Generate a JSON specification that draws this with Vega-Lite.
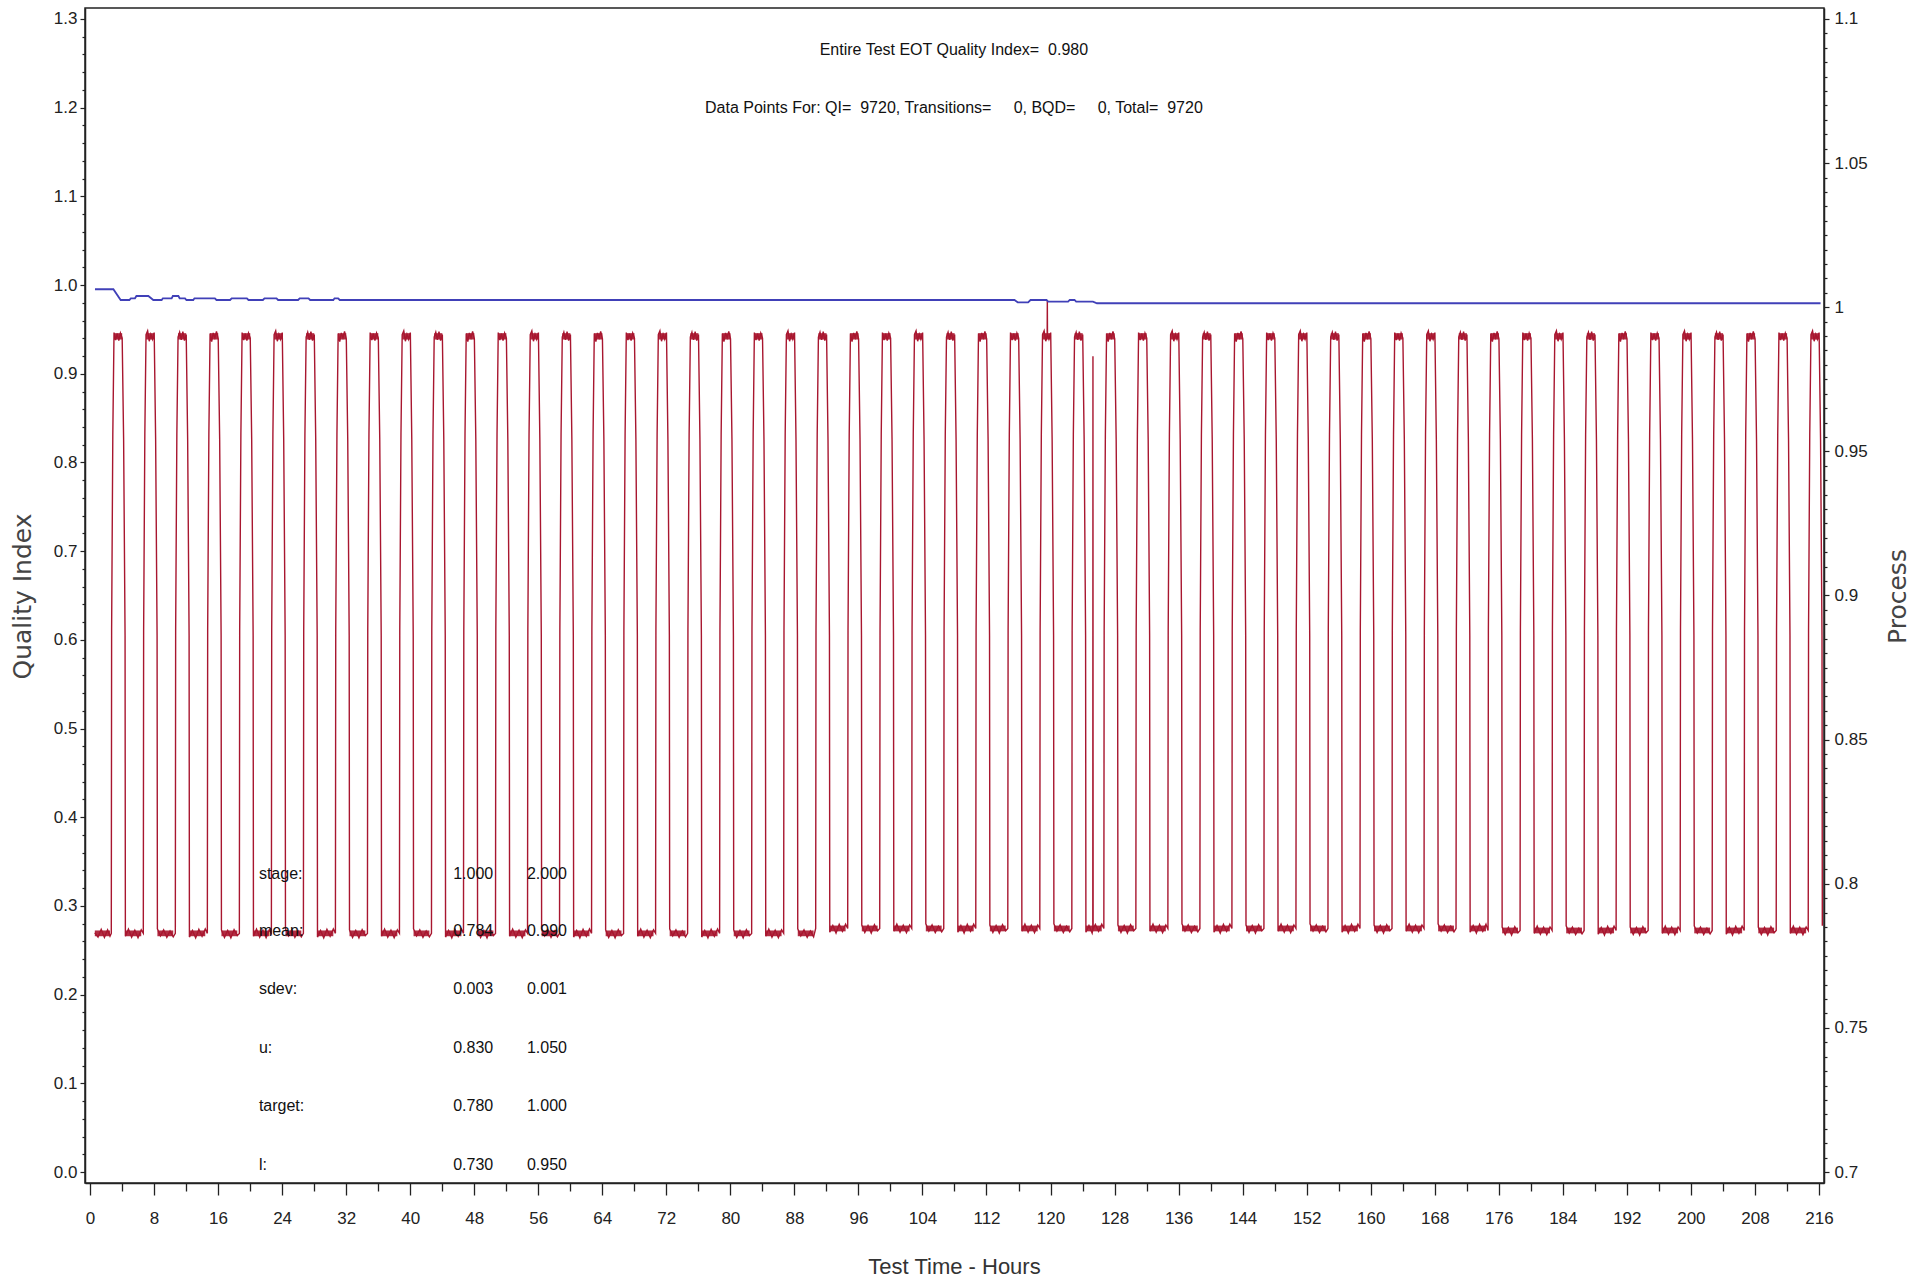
{
"$schema":"https://vega.github.io/schema/vega-lite/v6.json",
"width":1739,"height":1175,
"autosize":{"type":"none"},
"padding":{"left":85,"top":8,"right":103,"bottom":99},
"background":"white",
"config":{"view":{"stroke":"#222222","strokeWidth":1.5},"axis":{"grid":false}},
"datasets":{
"proc":[
{"h":0.6,"p":0.783},{"h":1,"p":0.7815},{"h":1.4,"p":0.7842},{"h":1.8,"p":0.7814},{"h":2.2,"p":0.784},{"h":2.5,"p":0.7818},
{"h":2.66,"p":0.7828},{"h":2.7,"p":0.888},{"h":2.85,"p":0.956},{"h":3,"p":0.9912},{"h":3.2,"p":0.9886},{"h":3.4,"p":0.9908},{"h":3.6,"p":0.9884},{"h":3.8,"p":0.991},{"h":4.02,"p":0.9893},{"h":4.2,"p":0.954},{"h":4.38,"p":0.886},{"h":4.42,"p":0.7818},{"h":4.8,"p":0.7843},{"h":5.2,"p":0.7815},{"h":5.6,"p":0.7839},{"h":6,"p":0.7813},{"h":6.4,"p":0.784},
{"h":6.66,"p":0.7828},{"h":6.7,"p":0.888},{"h":6.85,"p":0.956},{"h":7,"p":0.9905},{"h":7.2,"p":0.9918},{"h":7.4,"p":0.9882},{"h":7.6,"p":0.9906},{"h":7.8,"p":0.9889},{"h":8.02,"p":0.9912},{"h":8.2,"p":0.954},{"h":8.38,"p":0.886},{"h":8.42,"p":0.7844},{"h":8.8,"p":0.7819},{"h":9.2,"p":0.784},{"h":9.6,"p":0.7814},{"h":10,"p":0.7836},{"h":10.4,"p":0.7816},
{"h":10.66,"p":0.7828},{"h":10.7,"p":0.888},{"h":10.85,"p":0.956},{"h":11,"p":0.9896},{"h":11.2,"p":0.9913},{"h":11.4,"p":0.9887},{"h":11.6,"p":0.9915},{"h":11.8,"p":0.9884},{"h":12.02,"p":0.9905},{"h":12.2,"p":0.954},{"h":12.38,"p":0.886},{"h":12.42,"p":0.7815},{"h":12.8,"p":0.7838},{"h":13.2,"p":0.7812},{"h":13.6,"p":0.7842},{"h":14,"p":0.7818},{"h":14.4,"p":0.7843},
{"h":14.66,"p":0.7828},{"h":14.7,"p":0.888},{"h":14.85,"p":0.956},{"h":15,"p":0.9909},{"h":15.2,"p":0.9881},{"h":15.4,"p":0.9911},{"h":15.6,"p":0.9894},{"h":15.8,"p":0.9916},{"h":16.02,"p":0.989},{"h":16.2,"p":0.954},{"h":16.38,"p":0.886},{"h":16.42,"p":0.784},{"h":16.8,"p":0.7814},{"h":17.2,"p":0.7838},{"h":17.6,"p":0.7812},{"h":18,"p":0.7841},{"h":18.4,"p":0.782},
{"h":18.66,"p":0.7828},{"h":18.7,"p":0.888},{"h":18.85,"p":0.956},{"h":19,"p":0.9912},{"h":19.2,"p":0.9886},{"h":19.4,"p":0.9908},{"h":19.6,"p":0.9884},{"h":19.8,"p":0.991},{"h":20.02,"p":0.9893},{"h":20.2,"p":0.954},{"h":20.38,"p":0.886},{"h":20.42,"p":0.7818},{"h":20.8,"p":0.7843},{"h":21.2,"p":0.7815},{"h":21.6,"p":0.7839},{"h":22,"p":0.7813},{"h":22.4,"p":0.784},
{"h":22.66,"p":0.7828},{"h":22.7,"p":0.888},{"h":22.85,"p":0.956},{"h":23,"p":0.9905},{"h":23.2,"p":0.9918},{"h":23.4,"p":0.9882},{"h":23.6,"p":0.9906},{"h":23.8,"p":0.9889},{"h":24.02,"p":0.9912},{"h":24.2,"p":0.954},{"h":24.38,"p":0.886},{"h":24.42,"p":0.7844},{"h":24.8,"p":0.7819},{"h":25.2,"p":0.784},{"h":25.6,"p":0.7814},{"h":26,"p":0.7836},{"h":26.4,"p":0.7816},
{"h":26.66,"p":0.7828},{"h":26.7,"p":0.888},{"h":26.85,"p":0.956},{"h":27,"p":0.9896},{"h":27.2,"p":0.9913},{"h":27.4,"p":0.9887},{"h":27.6,"p":0.9915},{"h":27.8,"p":0.9884},{"h":28.02,"p":0.9905},{"h":28.2,"p":0.954},{"h":28.38,"p":0.886},{"h":28.42,"p":0.7815},{"h":28.8,"p":0.7838},{"h":29.2,"p":0.7812},{"h":29.6,"p":0.7842},{"h":30,"p":0.7818},{"h":30.4,"p":0.7843},
{"h":30.66,"p":0.7828},{"h":30.7,"p":0.888},{"h":30.85,"p":0.956},{"h":31,"p":0.9909},{"h":31.2,"p":0.9881},{"h":31.4,"p":0.9911},{"h":31.6,"p":0.9894},{"h":31.8,"p":0.9916},{"h":32.02,"p":0.989},{"h":32.2,"p":0.954},{"h":32.38,"p":0.886},{"h":32.42,"p":0.784},{"h":32.8,"p":0.7814},{"h":33.2,"p":0.7838},{"h":33.6,"p":0.7812},{"h":34,"p":0.7841},{"h":34.4,"p":0.782},
{"h":34.66,"p":0.7828},{"h":34.7,"p":0.888},{"h":34.85,"p":0.956},{"h":35,"p":0.9912},{"h":35.2,"p":0.9886},{"h":35.4,"p":0.9908},{"h":35.6,"p":0.9884},{"h":35.8,"p":0.991},{"h":36.02,"p":0.9893},{"h":36.2,"p":0.954},{"h":36.38,"p":0.886},{"h":36.42,"p":0.7818},{"h":36.8,"p":0.7843},{"h":37.2,"p":0.7815},{"h":37.6,"p":0.7839},{"h":38,"p":0.7813},{"h":38.4,"p":0.784},
{"h":38.66,"p":0.7828},{"h":38.7,"p":0.888},{"h":38.85,"p":0.956},{"h":39,"p":0.9905},{"h":39.2,"p":0.9918},{"h":39.4,"p":0.9882},{"h":39.6,"p":0.9906},{"h":39.8,"p":0.9889},{"h":40.02,"p":0.9912},{"h":40.2,"p":0.954},{"h":40.38,"p":0.886},{"h":40.42,"p":0.7844},{"h":40.8,"p":0.7819},{"h":41.2,"p":0.784},{"h":41.6,"p":0.7814},{"h":42,"p":0.7836},{"h":42.4,"p":0.7816},
{"h":42.66,"p":0.7828},{"h":42.7,"p":0.888},{"h":42.85,"p":0.956},{"h":43,"p":0.9896},{"h":43.2,"p":0.9913},{"h":43.4,"p":0.9887},{"h":43.6,"p":0.9915},{"h":43.8,"p":0.9884},{"h":44.02,"p":0.9905},{"h":44.2,"p":0.954},{"h":44.38,"p":0.886},{"h":44.42,"p":0.7815},{"h":44.8,"p":0.7838},{"h":45.2,"p":0.7812},{"h":45.6,"p":0.7842},{"h":46,"p":0.7818},{"h":46.4,"p":0.7843},
{"h":46.66,"p":0.7828},{"h":46.7,"p":0.888},{"h":46.85,"p":0.956},{"h":47,"p":0.9909},{"h":47.2,"p":0.9881},{"h":47.4,"p":0.9911},{"h":47.6,"p":0.9894},{"h":47.8,"p":0.9916},{"h":48.02,"p":0.989},{"h":48.2,"p":0.954},{"h":48.38,"p":0.886},{"h":48.42,"p":0.784},{"h":48.8,"p":0.7814},{"h":49.2,"p":0.7838},{"h":49.6,"p":0.7812},{"h":50,"p":0.7841},{"h":50.4,"p":0.782},
{"h":50.66,"p":0.7828},{"h":50.7,"p":0.888},{"h":50.85,"p":0.956},{"h":51,"p":0.9912},{"h":51.2,"p":0.9886},{"h":51.4,"p":0.9908},{"h":51.6,"p":0.9884},{"h":51.8,"p":0.991},{"h":52.02,"p":0.9893},{"h":52.2,"p":0.954},{"h":52.38,"p":0.886},{"h":52.42,"p":0.7818},{"h":52.8,"p":0.7843},{"h":53.2,"p":0.7815},{"h":53.6,"p":0.7839},{"h":54,"p":0.7813},{"h":54.4,"p":0.784},
{"h":54.66,"p":0.7828},{"h":54.7,"p":0.888},{"h":54.85,"p":0.956},{"h":55,"p":0.9905},{"h":55.2,"p":0.9918},{"h":55.4,"p":0.9882},{"h":55.6,"p":0.9906},{"h":55.8,"p":0.9889},{"h":56.02,"p":0.9912},{"h":56.2,"p":0.954},{"h":56.38,"p":0.886},{"h":56.42,"p":0.7844},{"h":56.8,"p":0.7819},{"h":57.2,"p":0.784},{"h":57.6,"p":0.7814},{"h":58,"p":0.7836},{"h":58.4,"p":0.7816},
{"h":58.66,"p":0.7828},{"h":58.7,"p":0.888},{"h":58.85,"p":0.956},{"h":59,"p":0.9896},{"h":59.2,"p":0.9913},{"h":59.4,"p":0.9887},{"h":59.6,"p":0.9915},{"h":59.8,"p":0.9884},{"h":60.02,"p":0.9905},{"h":60.2,"p":0.954},{"h":60.38,"p":0.886},{"h":60.42,"p":0.7815},{"h":60.8,"p":0.7838},{"h":61.2,"p":0.7812},{"h":61.6,"p":0.7842},{"h":62,"p":0.7818},{"h":62.4,"p":0.7843},
{"h":62.66,"p":0.7828},{"h":62.7,"p":0.888},{"h":62.85,"p":0.956},{"h":63,"p":0.9909},{"h":63.2,"p":0.9881},{"h":63.4,"p":0.9911},{"h":63.6,"p":0.9894},{"h":63.8,"p":0.9916},{"h":64.02,"p":0.989},{"h":64.2,"p":0.954},{"h":64.38,"p":0.886},{"h":64.42,"p":0.784},{"h":64.8,"p":0.7814},{"h":65.2,"p":0.7838},{"h":65.6,"p":0.7812},{"h":66,"p":0.7841},{"h":66.4,"p":0.782},
{"h":66.66,"p":0.7828},{"h":66.7,"p":0.888},{"h":66.85,"p":0.956},{"h":67,"p":0.9912},{"h":67.2,"p":0.9886},{"h":67.4,"p":0.9908},{"h":67.6,"p":0.9884},{"h":67.8,"p":0.991},{"h":68.02,"p":0.9893},{"h":68.2,"p":0.954},{"h":68.38,"p":0.886},{"h":68.42,"p":0.7818},{"h":68.8,"p":0.7843},{"h":69.2,"p":0.7815},{"h":69.6,"p":0.7839},{"h":70,"p":0.7813},{"h":70.4,"p":0.784},
{"h":70.66,"p":0.7828},{"h":70.7,"p":0.888},{"h":70.85,"p":0.956},{"h":71,"p":0.9905},{"h":71.2,"p":0.9918},{"h":71.4,"p":0.9882},{"h":71.6,"p":0.9906},{"h":71.8,"p":0.9889},{"h":72.02,"p":0.9912},{"h":72.2,"p":0.954},{"h":72.38,"p":0.886},{"h":72.42,"p":0.7844},{"h":72.8,"p":0.7819},{"h":73.2,"p":0.784},{"h":73.6,"p":0.7814},{"h":74,"p":0.7836},{"h":74.4,"p":0.7816},
{"h":74.66,"p":0.7828},{"h":74.7,"p":0.888},{"h":74.85,"p":0.956},{"h":75,"p":0.9896},{"h":75.2,"p":0.9913},{"h":75.4,"p":0.9887},{"h":75.6,"p":0.9915},{"h":75.8,"p":0.9884},{"h":76.02,"p":0.9905},{"h":76.2,"p":0.954},{"h":76.38,"p":0.886},{"h":76.42,"p":0.7815},{"h":76.8,"p":0.7838},{"h":77.2,"p":0.7812},{"h":77.6,"p":0.7842},{"h":78,"p":0.7818},{"h":78.4,"p":0.7843},
{"h":78.66,"p":0.7828},{"h":78.7,"p":0.888},{"h":78.85,"p":0.956},{"h":79,"p":0.9909},{"h":79.2,"p":0.9881},{"h":79.4,"p":0.9911},{"h":79.6,"p":0.9894},{"h":79.8,"p":0.9916},{"h":80.02,"p":0.989},{"h":80.2,"p":0.954},{"h":80.38,"p":0.886},{"h":80.42,"p":0.784},{"h":80.8,"p":0.7814},{"h":81.2,"p":0.7838},{"h":81.6,"p":0.7812},{"h":82,"p":0.7841},{"h":82.4,"p":0.782},
{"h":82.66,"p":0.7828},{"h":82.7,"p":0.888},{"h":82.85,"p":0.956},{"h":83,"p":0.9912},{"h":83.2,"p":0.9886},{"h":83.4,"p":0.9908},{"h":83.6,"p":0.9884},{"h":83.8,"p":0.991},{"h":84.02,"p":0.9893},{"h":84.2,"p":0.954},{"h":84.38,"p":0.886},{"h":84.42,"p":0.7818},{"h":84.8,"p":0.7843},{"h":85.2,"p":0.7815},{"h":85.6,"p":0.7839},{"h":86,"p":0.7813},{"h":86.4,"p":0.784},
{"h":86.66,"p":0.7828},{"h":86.7,"p":0.888},{"h":86.85,"p":0.956},{"h":87,"p":0.9905},{"h":87.2,"p":0.9918},{"h":87.4,"p":0.9882},{"h":87.6,"p":0.9906},{"h":87.8,"p":0.9889},{"h":88.02,"p":0.9912},{"h":88.2,"p":0.954},{"h":88.38,"p":0.886},{"h":88.42,"p":0.7844},{"h":88.8,"p":0.7819},{"h":89.2,"p":0.784},{"h":89.6,"p":0.7814},{"h":90,"p":0.7836},{"h":90.4,"p":0.7816},
{"h":90.66,"p":0.7845},{"h":90.7,"p":0.888},{"h":90.85,"p":0.956},{"h":91,"p":0.9896},{"h":91.2,"p":0.9913},{"h":91.4,"p":0.9887},{"h":91.6,"p":0.9915},{"h":91.8,"p":0.9884},{"h":92.02,"p":0.9905},{"h":92.2,"p":0.954},{"h":92.38,"p":0.886},{"h":92.42,"p":0.7832},{"h":92.8,"p":0.7855},{"h":93.2,"p":0.7829},{"h":93.6,"p":0.7859},{"h":94,"p":0.7835},{"h":94.4,"p":0.786},
{"h":94.66,"p":0.7845},{"h":94.7,"p":0.888},{"h":94.85,"p":0.956},{"h":95,"p":0.9909},{"h":95.2,"p":0.9881},{"h":95.4,"p":0.9911},{"h":95.6,"p":0.9894},{"h":95.8,"p":0.9916},{"h":96.02,"p":0.989},{"h":96.2,"p":0.954},{"h":96.38,"p":0.886},{"h":96.42,"p":0.7857},{"h":96.8,"p":0.7831},{"h":97.2,"p":0.7855},{"h":97.6,"p":0.7829},{"h":98,"p":0.7858},{"h":98.4,"p":0.7837},
{"h":98.66,"p":0.7845},{"h":98.7,"p":0.888},{"h":98.85,"p":0.956},{"h":99,"p":0.9912},{"h":99.2,"p":0.9886},{"h":99.4,"p":0.9908},{"h":99.6,"p":0.9884},{"h":99.8,"p":0.991},{"h":100.02,"p":0.9893},{"h":100.2,"p":0.954},{"h":100.38,"p":0.886},{"h":100.42,"p":0.7835},{"h":100.8,"p":0.786},{"h":101.2,"p":0.7832},{"h":101.6,"p":0.7856},{"h":102,"p":0.783},{"h":102.4,"p":0.7857},
{"h":102.66,"p":0.7845},{"h":102.7,"p":0.888},{"h":102.85,"p":0.956},{"h":103,"p":0.9905},{"h":103.2,"p":0.9918},{"h":103.4,"p":0.9882},{"h":103.6,"p":0.9906},{"h":103.8,"p":0.9889},{"h":104.02,"p":0.9912},{"h":104.2,"p":0.954},{"h":104.38,"p":0.886},{"h":104.42,"p":0.7861},{"h":104.8,"p":0.7836},{"h":105.2,"p":0.7857},{"h":105.6,"p":0.7831},{"h":106,"p":0.7853},{"h":106.4,"p":0.7833},
{"h":106.66,"p":0.7845},{"h":106.7,"p":0.888},{"h":106.85,"p":0.956},{"h":107,"p":0.9896},{"h":107.2,"p":0.9913},{"h":107.4,"p":0.9887},{"h":107.6,"p":0.9915},{"h":107.8,"p":0.9884},{"h":108.02,"p":0.9905},{"h":108.2,"p":0.954},{"h":108.38,"p":0.886},{"h":108.42,"p":0.7832},{"h":108.8,"p":0.7855},{"h":109.2,"p":0.7829},{"h":109.6,"p":0.7859},{"h":110,"p":0.7835},{"h":110.4,"p":0.786},
{"h":110.66,"p":0.7845},{"h":110.7,"p":0.888},{"h":110.85,"p":0.956},{"h":111,"p":0.9909},{"h":111.2,"p":0.9881},{"h":111.4,"p":0.9911},{"h":111.6,"p":0.9894},{"h":111.8,"p":0.9916},{"h":112.02,"p":0.989},{"h":112.2,"p":0.954},{"h":112.38,"p":0.886},{"h":112.42,"p":0.7857},{"h":112.8,"p":0.7831},{"h":113.2,"p":0.7855},{"h":113.6,"p":0.7829},{"h":114,"p":0.7858},{"h":114.4,"p":0.7837},
{"h":114.66,"p":0.7845},{"h":114.7,"p":0.888},{"h":114.85,"p":0.956},{"h":115,"p":0.9912},{"h":115.2,"p":0.9886},{"h":115.4,"p":0.9908},{"h":115.6,"p":0.9884},{"h":115.8,"p":0.991},{"h":116.02,"p":0.9893},{"h":116.2,"p":0.954},{"h":116.38,"p":0.886},{"h":116.42,"p":0.7835},{"h":116.8,"p":0.786},{"h":117.2,"p":0.7832},{"h":117.6,"p":0.7856},{"h":118,"p":0.783},{"h":118.4,"p":0.7857},
{"h":118.66,"p":0.7845},{"h":118.7,"p":0.888},{"h":118.85,"p":0.956},{"h":119,"p":0.9905},{"h":119.2,"p":0.9918},{"h":119.4,"p":0.9882},{"h":119.58,"p":0.99},{"h":119.6,"p":1.0025},{"h":119.62,"p":0.9906},{"h":119.8,"p":0.9889},{"h":120.02,"p":0.9912},{"h":120.2,"p":0.954},{"h":120.38,"p":0.886},{"h":120.42,"p":0.7861},{"h":120.8,"p":0.7836},{"h":121.2,"p":0.7857},{"h":121.6,"p":0.7831},{"h":122,"p":0.7853},{"h":122.4,"p":0.7833},
{"h":122.66,"p":0.7845},{"h":122.7,"p":0.888},{"h":122.85,"p":0.956},{"h":123,"p":0.9896},{"h":123.2,"p":0.9913},{"h":123.4,"p":0.9887},{"h":123.6,"p":0.9915},{"h":123.8,"p":0.9884},{"h":124.02,"p":0.9905},{"h":124.2,"p":0.954},{"h":124.38,"p":0.886},{"h":124.42,"p":0.7832},{"h":124.8,"p":0.7855},{"h":125.2,"p":0.7829},{"h":125.28,"p":0.784},{"h":125.3,"p":0.983},{"h":125.32,"p":0.7842},{"h":125.6,"p":0.7859},{"h":126,"p":0.7835},{"h":126.4,"p":0.786},
{"h":126.66,"p":0.7845},{"h":126.7,"p":0.888},{"h":126.85,"p":0.956},{"h":127,"p":0.9909},{"h":127.2,"p":0.9881},{"h":127.4,"p":0.9911},{"h":127.6,"p":0.9894},{"h":127.8,"p":0.9916},{"h":128.02,"p":0.989},{"h":128.2,"p":0.954},{"h":128.38,"p":0.886},{"h":128.42,"p":0.7857},{"h":128.8,"p":0.7831},{"h":129.2,"p":0.7855},{"h":129.6,"p":0.7829},{"h":130,"p":0.7858},{"h":130.4,"p":0.7837},
{"h":130.66,"p":0.7845},{"h":130.7,"p":0.888},{"h":130.85,"p":0.956},{"h":131,"p":0.9912},{"h":131.2,"p":0.9886},{"h":131.4,"p":0.9908},{"h":131.6,"p":0.9884},{"h":131.8,"p":0.991},{"h":132.02,"p":0.9893},{"h":132.2,"p":0.954},{"h":132.38,"p":0.886},{"h":132.42,"p":0.7835},{"h":132.8,"p":0.786},{"h":133.2,"p":0.7832},{"h":133.6,"p":0.7856},{"h":134,"p":0.783},{"h":134.4,"p":0.7857},
{"h":134.66,"p":0.7845},{"h":134.7,"p":0.888},{"h":134.85,"p":0.956},{"h":135,"p":0.9905},{"h":135.2,"p":0.9918},{"h":135.4,"p":0.9882},{"h":135.6,"p":0.9906},{"h":135.8,"p":0.9889},{"h":136.02,"p":0.9912},{"h":136.2,"p":0.954},{"h":136.38,"p":0.886},{"h":136.42,"p":0.7861},{"h":136.8,"p":0.7836},{"h":137.2,"p":0.7857},{"h":137.6,"p":0.7831},{"h":138,"p":0.7853},{"h":138.4,"p":0.7833},
{"h":138.66,"p":0.7845},{"h":138.7,"p":0.888},{"h":138.85,"p":0.956},{"h":139,"p":0.9896},{"h":139.2,"p":0.9913},{"h":139.4,"p":0.9887},{"h":139.6,"p":0.9915},{"h":139.8,"p":0.9884},{"h":140.02,"p":0.9905},{"h":140.2,"p":0.954},{"h":140.38,"p":0.886},{"h":140.42,"p":0.7832},{"h":140.8,"p":0.7855},{"h":141.2,"p":0.7829},{"h":141.6,"p":0.7859},{"h":142,"p":0.7835},{"h":142.4,"p":0.786},
{"h":142.66,"p":0.7845},{"h":142.7,"p":0.888},{"h":142.85,"p":0.956},{"h":143,"p":0.9909},{"h":143.2,"p":0.9881},{"h":143.4,"p":0.9911},{"h":143.6,"p":0.9894},{"h":143.8,"p":0.9916},{"h":144.02,"p":0.989},{"h":144.2,"p":0.954},{"h":144.38,"p":0.886},{"h":144.42,"p":0.7857},{"h":144.8,"p":0.7831},{"h":145.2,"p":0.7855},{"h":145.6,"p":0.7829},{"h":146,"p":0.7858},{"h":146.4,"p":0.7837},
{"h":146.66,"p":0.7845},{"h":146.7,"p":0.888},{"h":146.85,"p":0.956},{"h":147,"p":0.9912},{"h":147.2,"p":0.9886},{"h":147.4,"p":0.9908},{"h":147.6,"p":0.9884},{"h":147.8,"p":0.991},{"h":148.02,"p":0.9893},{"h":148.2,"p":0.954},{"h":148.38,"p":0.886},{"h":148.42,"p":0.7835},{"h":148.8,"p":0.786},{"h":149.2,"p":0.7832},{"h":149.6,"p":0.7856},{"h":150,"p":0.783},{"h":150.4,"p":0.7857},
{"h":150.66,"p":0.7845},{"h":150.7,"p":0.888},{"h":150.85,"p":0.956},{"h":151,"p":0.9905},{"h":151.2,"p":0.9918},{"h":151.4,"p":0.9882},{"h":151.6,"p":0.9906},{"h":151.8,"p":0.9889},{"h":152.02,"p":0.9912},{"h":152.2,"p":0.954},{"h":152.38,"p":0.886},{"h":152.42,"p":0.7861},{"h":152.8,"p":0.7836},{"h":153.2,"p":0.7857},{"h":153.6,"p":0.7831},{"h":154,"p":0.7853},{"h":154.4,"p":0.7833},
{"h":154.66,"p":0.7845},{"h":154.7,"p":0.888},{"h":154.85,"p":0.956},{"h":155,"p":0.9896},{"h":155.2,"p":0.9913},{"h":155.4,"p":0.9887},{"h":155.6,"p":0.9915},{"h":155.8,"p":0.9884},{"h":156.02,"p":0.9905},{"h":156.2,"p":0.954},{"h":156.38,"p":0.886},{"h":156.42,"p":0.7832},{"h":156.8,"p":0.7855},{"h":157.2,"p":0.7829},{"h":157.6,"p":0.7859},{"h":158,"p":0.7835},{"h":158.4,"p":0.786},
{"h":158.66,"p":0.7845},{"h":158.7,"p":0.888},{"h":158.85,"p":0.956},{"h":159,"p":0.9909},{"h":159.2,"p":0.9881},{"h":159.4,"p":0.9911},{"h":159.6,"p":0.9894},{"h":159.8,"p":0.9916},{"h":160.02,"p":0.989},{"h":160.2,"p":0.954},{"h":160.38,"p":0.886},{"h":160.42,"p":0.7857},{"h":160.8,"p":0.7831},{"h":161.2,"p":0.7855},{"h":161.6,"p":0.7829},{"h":162,"p":0.7858},{"h":162.4,"p":0.7837},
{"h":162.66,"p":0.7845},{"h":162.7,"p":0.888},{"h":162.85,"p":0.956},{"h":163,"p":0.9912},{"h":163.2,"p":0.9886},{"h":163.4,"p":0.9908},{"h":163.6,"p":0.9884},{"h":163.8,"p":0.991},{"h":164.02,"p":0.9893},{"h":164.2,"p":0.954},{"h":164.38,"p":0.886},{"h":164.42,"p":0.7835},{"h":164.8,"p":0.786},{"h":165.2,"p":0.7832},{"h":165.6,"p":0.7856},{"h":166,"p":0.783},{"h":166.4,"p":0.7857},
{"h":166.66,"p":0.7845},{"h":166.7,"p":0.888},{"h":166.85,"p":0.956},{"h":167,"p":0.9905},{"h":167.2,"p":0.9918},{"h":167.4,"p":0.9882},{"h":167.6,"p":0.9906},{"h":167.8,"p":0.9889},{"h":168.02,"p":0.9912},{"h":168.2,"p":0.954},{"h":168.38,"p":0.886},{"h":168.42,"p":0.7861},{"h":168.8,"p":0.7836},{"h":169.2,"p":0.7857},{"h":169.6,"p":0.7831},{"h":170,"p":0.7853},{"h":170.4,"p":0.7833},
{"h":170.66,"p":0.7845},{"h":170.7,"p":0.888},{"h":170.85,"p":0.956},{"h":171,"p":0.9896},{"h":171.2,"p":0.9913},{"h":171.4,"p":0.9887},{"h":171.6,"p":0.9915},{"h":171.8,"p":0.9884},{"h":172.02,"p":0.9905},{"h":172.2,"p":0.954},{"h":172.38,"p":0.886},{"h":172.42,"p":0.7832},{"h":172.8,"p":0.7855},{"h":173.2,"p":0.7829},{"h":173.6,"p":0.7859},{"h":174,"p":0.7835},{"h":174.4,"p":0.786},
{"h":174.66,"p":0.7838},{"h":174.7,"p":0.888},{"h":174.85,"p":0.956},{"h":175,"p":0.9909},{"h":175.2,"p":0.9881},{"h":175.4,"p":0.9911},{"h":175.6,"p":0.9894},{"h":175.8,"p":0.9916},{"h":176.02,"p":0.989},{"h":176.2,"p":0.954},{"h":176.38,"p":0.886},{"h":176.42,"p":0.785},{"h":176.8,"p":0.7824},{"h":177.2,"p":0.7848},{"h":177.6,"p":0.7822},{"h":178,"p":0.7851},{"h":178.4,"p":0.783},
{"h":178.66,"p":0.7838},{"h":178.7,"p":0.888},{"h":178.85,"p":0.956},{"h":179,"p":0.9912},{"h":179.2,"p":0.9886},{"h":179.4,"p":0.9908},{"h":179.6,"p":0.9884},{"h":179.8,"p":0.991},{"h":180.02,"p":0.9893},{"h":180.2,"p":0.954},{"h":180.38,"p":0.886},{"h":180.42,"p":0.7828},{"h":180.8,"p":0.7853},{"h":181.2,"p":0.7825},{"h":181.6,"p":0.7849},{"h":182,"p":0.7823},{"h":182.4,"p":0.785},
{"h":182.66,"p":0.7838},{"h":182.7,"p":0.888},{"h":182.85,"p":0.956},{"h":183,"p":0.9905},{"h":183.2,"p":0.9918},{"h":183.4,"p":0.9882},{"h":183.6,"p":0.9906},{"h":183.8,"p":0.9889},{"h":184.02,"p":0.9912},{"h":184.2,"p":0.954},{"h":184.38,"p":0.886},{"h":184.42,"p":0.7854},{"h":184.8,"p":0.7829},{"h":185.2,"p":0.785},{"h":185.6,"p":0.7824},{"h":186,"p":0.7846},{"h":186.4,"p":0.7826},
{"h":186.66,"p":0.7838},{"h":186.7,"p":0.888},{"h":186.85,"p":0.956},{"h":187,"p":0.9896},{"h":187.2,"p":0.9913},{"h":187.4,"p":0.9887},{"h":187.6,"p":0.9915},{"h":187.8,"p":0.9884},{"h":188.02,"p":0.9905},{"h":188.2,"p":0.954},{"h":188.38,"p":0.886},{"h":188.42,"p":0.7825},{"h":188.8,"p":0.7848},{"h":189.2,"p":0.7822},{"h":189.6,"p":0.7852},{"h":190,"p":0.7828},{"h":190.4,"p":0.7853},
{"h":190.66,"p":0.7838},{"h":190.7,"p":0.888},{"h":190.85,"p":0.956},{"h":191,"p":0.9909},{"h":191.2,"p":0.9881},{"h":191.4,"p":0.9911},{"h":191.6,"p":0.9894},{"h":191.8,"p":0.9916},{"h":192.02,"p":0.989},{"h":192.2,"p":0.954},{"h":192.38,"p":0.886},{"h":192.42,"p":0.785},{"h":192.8,"p":0.7824},{"h":193.2,"p":0.7848},{"h":193.6,"p":0.7822},{"h":194,"p":0.7851},{"h":194.4,"p":0.783},
{"h":194.66,"p":0.7838},{"h":194.7,"p":0.888},{"h":194.85,"p":0.956},{"h":195,"p":0.9912},{"h":195.2,"p":0.9886},{"h":195.4,"p":0.9908},{"h":195.6,"p":0.9884},{"h":195.8,"p":0.991},{"h":196.02,"p":0.9893},{"h":196.2,"p":0.954},{"h":196.38,"p":0.886},{"h":196.42,"p":0.7828},{"h":196.8,"p":0.7853},{"h":197.2,"p":0.7825},{"h":197.6,"p":0.7849},{"h":198,"p":0.7823},{"h":198.4,"p":0.785},
{"h":198.66,"p":0.7838},{"h":198.7,"p":0.888},{"h":198.85,"p":0.956},{"h":199,"p":0.9905},{"h":199.2,"p":0.9918},{"h":199.4,"p":0.9882},{"h":199.6,"p":0.9906},{"h":199.8,"p":0.9889},{"h":200.02,"p":0.9912},{"h":200.2,"p":0.954},{"h":200.38,"p":0.886},{"h":200.42,"p":0.7854},{"h":200.8,"p":0.7829},{"h":201.2,"p":0.785},{"h":201.6,"p":0.7824},{"h":202,"p":0.7846},{"h":202.4,"p":0.7826},
{"h":202.66,"p":0.7838},{"h":202.7,"p":0.888},{"h":202.85,"p":0.956},{"h":203,"p":0.9896},{"h":203.2,"p":0.9913},{"h":203.4,"p":0.9887},{"h":203.6,"p":0.9915},{"h":203.8,"p":0.9884},{"h":204.02,"p":0.9905},{"h":204.2,"p":0.954},{"h":204.38,"p":0.886},{"h":204.42,"p":0.7825},{"h":204.8,"p":0.7848},{"h":205.2,"p":0.7822},{"h":205.6,"p":0.7852},{"h":206,"p":0.7828},{"h":206.4,"p":0.7853},
{"h":206.66,"p":0.7838},{"h":206.7,"p":0.888},{"h":206.85,"p":0.956},{"h":207,"p":0.9909},{"h":207.2,"p":0.9881},{"h":207.4,"p":0.9911},{"h":207.6,"p":0.9894},{"h":207.8,"p":0.9916},{"h":208.02,"p":0.989},{"h":208.2,"p":0.954},{"h":208.38,"p":0.886},{"h":208.42,"p":0.785},{"h":208.8,"p":0.7824},{"h":209.2,"p":0.7848},{"h":209.6,"p":0.7822},{"h":210,"p":0.7851},{"h":210.4,"p":0.783},
{"h":210.66,"p":0.7838},{"h":210.7,"p":0.888},{"h":210.85,"p":0.956},{"h":211,"p":0.9912},{"h":211.2,"p":0.9886},{"h":211.4,"p":0.9908},{"h":211.6,"p":0.9884},{"h":211.8,"p":0.991},{"h":212.02,"p":0.9893},{"h":212.2,"p":0.954},{"h":212.38,"p":0.886},{"h":212.42,"p":0.7828},{"h":212.8,"p":0.7853},{"h":213.2,"p":0.7825},{"h":213.6,"p":0.7849},{"h":214,"p":0.7823},{"h":214.4,"p":0.785},
{"h":214.66,"p":0.7838},{"h":214.7,"p":0.888},{"h":214.85,"p":0.956},{"h":215,"p":0.9905},{"h":215.2,"p":0.9918},{"h":215.4,"p":0.9882},{"h":215.6,"p":0.9906},{"h":215.8,"p":0.9889},{"h":216.02,"p":0.9912},{"h":216.2,"p":0.954},{"h":216.38,"p":0.886},{"h":216.42,"p":0.7854}
],
"bands":[
{"h":0.6,"h2":2.5,"p":0.7818,"p2":0.7838},
{"h":3,"h2":4.02,"p":0.9888,"p2":0.991},{"h":4.42,"h2":6.4,"p":0.7818,"p2":0.7838},
{"h":7,"h2":8.02,"p":0.9888,"p2":0.991},{"h":8.42,"h2":10.4,"p":0.7818,"p2":0.7838},
{"h":11,"h2":12.02,"p":0.9888,"p2":0.991},{"h":12.42,"h2":14.4,"p":0.7818,"p2":0.7838},
{"h":15,"h2":16.02,"p":0.9888,"p2":0.991},{"h":16.42,"h2":18.4,"p":0.7818,"p2":0.7838},
{"h":19,"h2":20.02,"p":0.9888,"p2":0.991},{"h":20.42,"h2":22.4,"p":0.7818,"p2":0.7838},
{"h":23,"h2":24.02,"p":0.9888,"p2":0.991},{"h":24.42,"h2":26.4,"p":0.7818,"p2":0.7838},
{"h":27,"h2":28.02,"p":0.9888,"p2":0.991},{"h":28.42,"h2":30.4,"p":0.7818,"p2":0.7838},
{"h":31,"h2":32.02,"p":0.9888,"p2":0.991},{"h":32.42,"h2":34.4,"p":0.7818,"p2":0.7838},
{"h":35,"h2":36.02,"p":0.9888,"p2":0.991},{"h":36.42,"h2":38.4,"p":0.7818,"p2":0.7838},
{"h":39,"h2":40.02,"p":0.9888,"p2":0.991},{"h":40.42,"h2":42.4,"p":0.7818,"p2":0.7838},
{"h":43,"h2":44.02,"p":0.9888,"p2":0.991},{"h":44.42,"h2":46.4,"p":0.7818,"p2":0.7838},
{"h":47,"h2":48.02,"p":0.9888,"p2":0.991},{"h":48.42,"h2":50.4,"p":0.7818,"p2":0.7838},
{"h":51,"h2":52.02,"p":0.9888,"p2":0.991},{"h":52.42,"h2":54.4,"p":0.7818,"p2":0.7838},
{"h":55,"h2":56.02,"p":0.9888,"p2":0.991},{"h":56.42,"h2":58.4,"p":0.7818,"p2":0.7838},
{"h":59,"h2":60.02,"p":0.9888,"p2":0.991},{"h":60.42,"h2":62.4,"p":0.7818,"p2":0.7838},
{"h":63,"h2":64.02,"p":0.9888,"p2":0.991},{"h":64.42,"h2":66.4,"p":0.7818,"p2":0.7838},
{"h":67,"h2":68.02,"p":0.9888,"p2":0.991},{"h":68.42,"h2":70.4,"p":0.7818,"p2":0.7838},
{"h":71,"h2":72.02,"p":0.9888,"p2":0.991},{"h":72.42,"h2":74.4,"p":0.7818,"p2":0.7838},
{"h":75,"h2":76.02,"p":0.9888,"p2":0.991},{"h":76.42,"h2":78.4,"p":0.7818,"p2":0.7838},
{"h":79,"h2":80.02,"p":0.9888,"p2":0.991},{"h":80.42,"h2":82.4,"p":0.7818,"p2":0.7838},
{"h":83,"h2":84.02,"p":0.9888,"p2":0.991},{"h":84.42,"h2":86.4,"p":0.7818,"p2":0.7838},
{"h":87,"h2":88.02,"p":0.9888,"p2":0.991},{"h":88.42,"h2":90.4,"p":0.7818,"p2":0.7838},
{"h":91,"h2":92.02,"p":0.9888,"p2":0.991},{"h":92.42,"h2":94.4,"p":0.7835,"p2":0.7855},
{"h":95,"h2":96.02,"p":0.9888,"p2":0.991},{"h":96.42,"h2":98.4,"p":0.7835,"p2":0.7855},
{"h":99,"h2":100.02,"p":0.9888,"p2":0.991},{"h":100.42,"h2":102.4,"p":0.7835,"p2":0.7855},
{"h":103,"h2":104.02,"p":0.9888,"p2":0.991},{"h":104.42,"h2":106.4,"p":0.7835,"p2":0.7855},
{"h":107,"h2":108.02,"p":0.9888,"p2":0.991},{"h":108.42,"h2":110.4,"p":0.7835,"p2":0.7855},
{"h":111,"h2":112.02,"p":0.9888,"p2":0.991},{"h":112.42,"h2":114.4,"p":0.7835,"p2":0.7855},
{"h":115,"h2":116.02,"p":0.9888,"p2":0.991},{"h":116.42,"h2":118.4,"p":0.7835,"p2":0.7855},
{"h":119,"h2":120.02,"p":0.9888,"p2":0.991},{"h":120.42,"h2":122.4,"p":0.7835,"p2":0.7855},
{"h":123,"h2":124.02,"p":0.9888,"p2":0.991},{"h":124.42,"h2":126.4,"p":0.7835,"p2":0.7855},
{"h":127,"h2":128.02,"p":0.9888,"p2":0.991},{"h":128.42,"h2":130.4,"p":0.7835,"p2":0.7855},
{"h":131,"h2":132.02,"p":0.9888,"p2":0.991},{"h":132.42,"h2":134.4,"p":0.7835,"p2":0.7855},
{"h":135,"h2":136.02,"p":0.9888,"p2":0.991},{"h":136.42,"h2":138.4,"p":0.7835,"p2":0.7855},
{"h":139,"h2":140.02,"p":0.9888,"p2":0.991},{"h":140.42,"h2":142.4,"p":0.7835,"p2":0.7855},
{"h":143,"h2":144.02,"p":0.9888,"p2":0.991},{"h":144.42,"h2":146.4,"p":0.7835,"p2":0.7855},
{"h":147,"h2":148.02,"p":0.9888,"p2":0.991},{"h":148.42,"h2":150.4,"p":0.7835,"p2":0.7855},
{"h":151,"h2":152.02,"p":0.9888,"p2":0.991},{"h":152.42,"h2":154.4,"p":0.7835,"p2":0.7855},
{"h":155,"h2":156.02,"p":0.9888,"p2":0.991},{"h":156.42,"h2":158.4,"p":0.7835,"p2":0.7855},
{"h":159,"h2":160.02,"p":0.9888,"p2":0.991},{"h":160.42,"h2":162.4,"p":0.7835,"p2":0.7855},
{"h":163,"h2":164.02,"p":0.9888,"p2":0.991},{"h":164.42,"h2":166.4,"p":0.7835,"p2":0.7855},
{"h":167,"h2":168.02,"p":0.9888,"p2":0.991},{"h":168.42,"h2":170.4,"p":0.7835,"p2":0.7855},
{"h":171,"h2":172.02,"p":0.9888,"p2":0.991},{"h":172.42,"h2":174.4,"p":0.7835,"p2":0.7855},
{"h":175,"h2":176.02,"p":0.9888,"p2":0.991},{"h":176.42,"h2":178.4,"p":0.7828,"p2":0.7848},
{"h":179,"h2":180.02,"p":0.9888,"p2":0.991},{"h":180.42,"h2":182.4,"p":0.7828,"p2":0.7848},
{"h":183,"h2":184.02,"p":0.9888,"p2":0.991},{"h":184.42,"h2":186.4,"p":0.7828,"p2":0.7848},
{"h":187,"h2":188.02,"p":0.9888,"p2":0.991},{"h":188.42,"h2":190.4,"p":0.7828,"p2":0.7848},
{"h":191,"h2":192.02,"p":0.9888,"p2":0.991},{"h":192.42,"h2":194.4,"p":0.7828,"p2":0.7848},
{"h":195,"h2":196.02,"p":0.9888,"p2":0.991},{"h":196.42,"h2":198.4,"p":0.7828,"p2":0.7848},
{"h":199,"h2":200.02,"p":0.9888,"p2":0.991},{"h":200.42,"h2":202.4,"p":0.7828,"p2":0.7848},
{"h":203,"h2":204.02,"p":0.9888,"p2":0.991},{"h":204.42,"h2":206.4,"p":0.7828,"p2":0.7848},
{"h":207,"h2":208.02,"p":0.9888,"p2":0.991},{"h":208.42,"h2":210.4,"p":0.7828,"p2":0.7848},
{"h":211,"h2":212.02,"p":0.9888,"p2":0.991},{"h":212.42,"h2":214.4,"p":0.7828,"p2":0.7848},
{"h":215,"h2":216.02,"p":0.9888,"p2":0.991}
],
"qi":[
{"h":0.62,"v":0.9953},{"h":2.92,"v":0.9953},{"h":3.83,"v":0.9832},{"h":4.92,"v":0.9832},{"h":5.1,"v":0.9851},{"h":5.62,"v":0.9851},{"h":5.8,"v":0.9877},{"h":7.29,"v":0.9877},{"h":7.91,"v":0.9832},{"h":8.95,"v":0.9832},{"h":9.1,"v":0.9851},{"h":10.2,"v":0.9851},{"h":10.35,"v":0.9877},{"h":11.04,"v":0.9877},{"h":11.2,"v":0.9851},{"h":11.87,"v":0.9851},{"h":12.05,"v":0.9832},{"h":12.9,"v":0.9832},{"h":13.05,"v":0.9851},{"h":15.6,"v":0.9851},{"h":15.8,"v":0.9832},{"h":17.5,"v":0.9832},{"h":17.7,"v":0.9851},{"h":19.6,"v":0.9851},{"h":19.8,"v":0.9832},{"h":21.6,"v":0.9832},{"h":21.8,"v":0.9851},{"h":23.3,"v":0.9851},{"h":23.5,"v":0.9832},{"h":26,"v":0.9832},{"h":26.2,"v":0.9851},{"h":27.3,"v":0.9851},{"h":27.5,"v":0.9832},{"h":30.4,"v":0.9832},{"h":30.55,"v":0.9851},{"h":31,"v":0.9851},{"h":31.2,"v":0.9832},{"h":115.5,"v":0.9832},{"h":115.9,"v":0.9806},{"h":117.2,"v":0.9806},{"h":117.5,"v":0.9832},{"h":119.5,"v":0.9832},{"h":119.7,"v":0.9813},{"h":122.2,"v":0.9813},{"h":122.4,"v":0.9832},{"h":123,"v":0.9832},{"h":123.2,"v":0.9813},{"h":125.3,"v":0.9813},{"h":125.8,"v":0.9795},{"h":216.2,"v":0.9795}
],
"stats":[
{"h":21.1,"v":0.3364,"t":"stage:"},{"h":45.37,"v":0.3364,"t":"1.000"},{"h":54.58,"v":0.3364,"t":"2.000"},
{"h":21.1,"v":0.2712,"t":"mean:"},{"h":45.37,"v":0.2712,"t":"0.784"},{"h":54.58,"v":0.2712,"t":"0.990"},
{"h":21.1,"v":0.206,"t":"sdev:"},{"h":45.37,"v":0.206,"t":"0.003"},{"h":54.58,"v":0.206,"t":"0.001"},
{"h":21.1,"v":0.14,"t":"u:"},{"h":45.37,"v":0.14,"t":"0.830"},{"h":54.58,"v":0.14,"t":"1.050"},
{"h":21.1,"v":0.0744,"t":"target:"},{"h":45.37,"v":0.0744,"t":"0.780"},{"h":54.58,"v":0.0744,"t":"1.000"},
{"h":21.1,"v":0.0074,"t":"l:"},{"h":45.37,"v":0.0074,"t":"0.730"},{"h":54.58,"v":0.0074,"t":"0.950"}
],
"head":[
{"h":107.93,"v":1.2651,"t":"Entire Test EOT Quality Index=\u00a0\u00a00.980"},
{"h":107.93,"v":1.1997,"t":"Data Points For: QI=\u00a0\u00a09720, Transitions=\u00a0\u00a0\u00a0\u00a0\u00a00, BQD=\u00a0\u00a0\u00a0\u00a0\u00a00, Total=\u00a0\u00a09720"}
]
},
"encoding":{
"x":{"field":"h","type":"quantitative","scale":{"domain":[-0.625,216.63],"nice":false,"zero":false},
"axis":{"orient":"bottom","title":"Test Time - Hours","values":[0,4,8,12,16,20,24,28,32,36,40,44,48,52,56,60,64,68,72,76,80,84,88,92,96,100,104,108,112,116,120,124,128,132,136,140,144,148,152,156,160,164,168,172,176,180,184,188,192,196,200,204,208,212,216],
"labelExpr":"datum.value % 8 === 0 ? datum.label : ''",
"tickSize":{"condition":{"test":"datum.value % 8 === 0","value":12},"value":8},
"tickColor":"#222222","tickWidth":1.3,"domainColor":"#222222","domainWidth":1.5,
"labelFont":"Liberation Sans","labelFontSize":17,"labelColor":"#222222","labelPadding":15,"labelFlush":false,"labelOverlap":false,
"titleFont":"Liberation Sans","titleFontSize":22,"titleFontWeight":"normal","titleColor":"#333333","titleX":869,"titleY":83,"titleAlign":"center","titleBaseline":"middle"}}
},
"layer":[
{
"encoding":{
"y":{"field":"p","type":"quantitative","scale":{"domain":[0.6962,1.1038],"nice":false,"zero":false},
"axis":{"orient":"right","title":"Process","values":[0.7,0.705,0.71,0.715,0.72,0.725,0.73,0.735,0.74,0.745,0.75,0.755,0.76,0.765,0.77,0.775,0.78,0.785,0.79,0.795,0.8,0.805,0.81,0.815,0.82,0.825,0.83,0.835,0.84,0.845,0.85,0.855,0.86,0.865,0.87,0.875,0.88,0.885,0.89,0.895,0.9,0.905,0.91,0.915,0.92,0.925,0.93,0.935,0.94,0.945,0.95,0.955,0.96,0.965,0.97,0.975,0.98,0.985,0.99,0.995,1,1.005,1.01,1.015,1.02,1.025,1.03,1.035,1.04,1.045,1.05,1.055,1.06,1.065,1.07,1.075,1.08,1.085,1.09,1.095,1.1],
"labelExpr":"abs(datum.value*20 - round(datum.value*20)) < 0.001 ? format(datum.value, '.2~f') : ''",
"tickSize":{"condition":{"test":"abs(datum.value*20 - round(datum.value*20)) < 0.001","value":5},"value":3},
"tickColor":"#222222","tickWidth":1.2,"domainColor":"#222222","domainWidth":1.5,
"labelFont":"Liberation Sans","labelFontSize":17,"labelColor":"#222222","labelPadding":5,"labelOverlap":false,"labelFlush":false,
"titleFont":"DejaVu Sans","titleFontSize":25,"titleFontWeight":"normal","titleColor":"#444444","titleAngle":270,"titleX":73,"titleY":588,"titleAlign":"center","titleBaseline":"middle"}}
},
"layer":[
{"data":{"name":"bands"},"mark":{"type":"rect","color":"#A8162F","opacity":0.9},"encoding":{"x2":{"field":"h2"},"y2":{"field":"p2"}}},
{"data":{"name":"proc"},"mark":{"type":"line","color":"#A8162F","strokeWidth":1.4}}
]
},
{
"encoding":{
"y":{"field":"v","type":"quantitative","scale":{"domain":[-0.0124,1.3124],"nice":false,"zero":false},
"axis":{"orient":"left","title":"Quality Index","values":[0,0.02,0.04,0.06,0.08,0.1,0.12,0.14,0.16,0.18,0.2,0.22,0.24,0.26,0.28,0.3,0.32,0.34,0.36,0.38,0.4,0.42,0.44,0.46,0.48,0.5,0.52,0.54,0.56,0.58,0.6,0.62,0.64,0.66,0.68,0.7,0.72,0.74,0.76,0.78,0.8,0.82,0.84,0.86,0.88,0.9,0.92,0.94,0.96,0.98,1,1.02,1.04,1.06,1.08,1.1,1.12,1.14,1.16,1.18,1.2,1.22,1.24,1.26,1.28,1.3],
"labelExpr":"abs(datum.value*10 - round(datum.value*10)) < 0.001 ? format(datum.value, '.1f') : ''",
"tickSize":{"condition":{"test":"abs(datum.value*10 - round(datum.value*10)) < 0.001","value":5},"value":3},
"tickColor":"#222222","tickWidth":1.2,"domainColor":"#222222","domainWidth":1.5,
"labelFont":"Liberation Sans","labelFontSize":17,"labelColor":"#222222","labelPadding":3,"labelOverlap":false,"labelFlush":false,
"titleFont":"DejaVu Sans","titleFontSize":25,"titleFontWeight":"normal","titleColor":"#444444","titleAngle":270,"titleX":-63,"titleY":588,"titleAlign":"center","titleBaseline":"middle"}}
},
"layer":[
{"data":{"name":"qi"},"mark":{"type":"line","color":"#4040B8","strokeWidth":1.8}},
{"data":{"name":"stats"},"mark":{"type":"text","align":"left","baseline":"middle","font":"Liberation Sans","fontSize":16,"color":"#111111"},"encoding":{"text":{"field":"t","type":"nominal"}}},
{"data":{"name":"head"},"mark":{"type":"text","align":"center","baseline":"middle","font":"Liberation Sans","fontSize":16,"color":"#111111"},"encoding":{"text":{"field":"t","type":"nominal"}}}
]
}
],
"resolve":{"scale":{"y":"independent"}}
}
